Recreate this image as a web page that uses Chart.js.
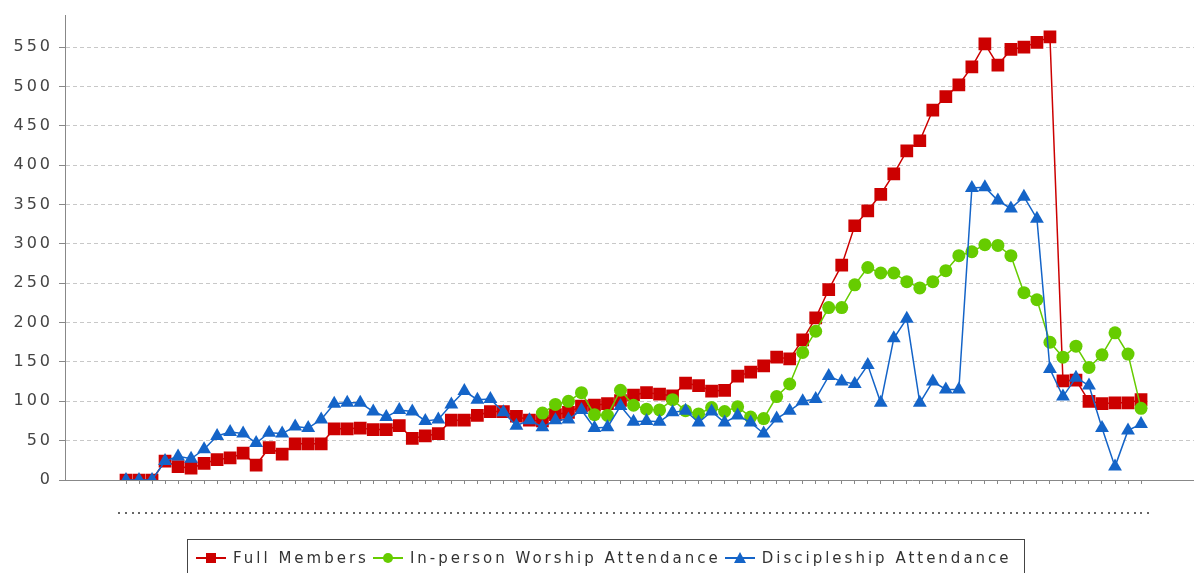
<!DOCTYPE html>
<html>
<head>
<meta charset="utf-8">
<script src="https://cdn.jsdelivr.net/npm/chart.js@4.4.1/dist/chart.umd.min.js"></script>
<style>
  html, body { margin: 0; padding: 0; background: #fff; }
  #wrap { position: relative; width: 1194px; height: 573px; overflow: hidden; }
  #legend {
    position: absolute; left: 187px; top: 539px; height: 38px;
    border: 1px solid #444; box-sizing: border-box;
    display: flex; align-items: center; padding: 0 8px;
    font: 15px "DejaVu Sans"; letter-spacing: 3px; color: #333; white-space: nowrap;
  }
  .item { display: flex; align-items: center; margin-right: 4px; }
  .mark { position: relative; width: 30px; height: 14px; margin-right: 7px; }
  .mark .ln { position: absolute; left: 0; right: 0; top: 6px; height: 2px; }
  .mark .sh { position: absolute; left: 10px; top: 2px; width: 10px; height: 10px; }
</style>
</head>
<body>
<div id="wrap">
  <canvas id="chart" width="1194" height="573"></canvas>
  <div id="legend"></div>
</div>
<script>
const periods = [
  0,1,2,3,4,5,6,7,8,9,10,11,12,13,14,15,16,17,18,19,
  20,21,22,23,24,25,26,27,28,29,30,31,32,33,34,35,36,37,38,39,
  40,41,42,43,44,45,46,47,48,49,50,51,52,53,54,55,56,57,58,59,
  60,61,62,63,64,65,66,67,68,69,70,71,72,73,74,75,76,77,78
];

const fullMembers = [
  0,0,0,24,17,15,21,26,28,34,
  19,41,33,46,46,46,65,65,66,64,
  64,69,53,56,59,76,76,82,87,87,
  81,76,75,83,86,94,95,97,101,108,
  111,109,107,123,120,113,114,132,137,145,
  156,154,178,206,242,273,323,342,363,389,
  418,431,470,487,502,525,554,527,547,550,
  556,563,126,127,100,97,98,98,102
];

const worship = [
  null,null,null,null,null,null,null,null,null,null,
  null,null,null,null,null,null,null,null,null,null,
  null,null,null,null,null,null,null,null,null,null,
  null,null,85,96,100,111,83,82,114,95,
  90,89,102,88,84,92,87,93,80,78,
  106,122,162,189,219,219,248,270,263,263,
  252,244,252,266,285,290,299,298,285,238,
  229,175,156,170,143,159,187,160,91
];

const discipleship = [
  0,0,0,24,30,27,39,56,61,59,
  47,60,59,68,66,77,97,98,98,87,
  80,89,87,75,77,96,113,102,103,86,
  69,76,67,76,77,89,66,67,94,74,
  75,74,86,88,73,87,73,82,73,59,
  78,88,100,103,132,125,122,146,98,180,
  205,98,125,115,115,371,372,355,345,360,
  332,141,106,130,120,66,17,63,71
];

const yTicksMax = 550;
const yStep = 50;

const spacedText = {
  id: 'spacedText',
  beforeDraw(chart) { chart.ctx.letterSpacing = '3px'; }
};

// row of small dots under the category axis
const dotRow = {
  id: 'dotRow',
  afterDraw(chart) {
    const x = chart.scales.x, ctx = chart.ctx;
    const step = x.getPixelForValue(1) - x.getPixelForValue(0);
    const start = x.getPixelForValue(0) - step / 2;
    ctx.save();
    ctx.fillStyle = '#666';
    for (let k = 0; k <= periods.length * 2; k++) {
      ctx.fillRect(Math.round(start + k * step / 2) - 1, 512, 2, 2);
    }
    ctx.restore();
  }
};

const ds = (label, data, color, style, radius, order) => ({
  label: label,
  data: data,
  borderColor: color,
  backgroundColor: color,
  borderWidth: 1.5,
  pointStyle: style,
  pointRadius: radius,
  pointHoverRadius: radius,
  pointBorderWidth: 0,
  tension: 0,
  order: order,
  clip: {left: 12, top: 12, right: 12, bottom: 0}
});

const chart = new Chart(document.getElementById('chart'), {
  type: 'line',
  data: {
    labels: periods,
    datasets: [
      ds('Full Members', fullMembers, '#cc0000', 'rect', 9, 3),
      ds('In-person Worship Attendance', worship, '#66cc00', 'circle', 6.5, 2),
      ds('Discipleship Attendance', discipleship, '#1464c8', 'triangle', 8, 1)
    ]
  },
  options: {
    responsive: false,
    animation: false,
    layout: { autoPadding: false, padding: { top: 12, right: 0, left: 0, bottom: 0 } },
    plugins: { legend: { display: false }, tooltip: { enabled: false } },
    scales: {
      x: {
        type: 'linear',
        min: -4.688,
        max: 82.07,
        afterBuildTicks: (s) => { s.ticks = periods.map(v => ({ value: v })); },
        afterFit: (s) => { s.height = 93; },
        ticks: { display: false },
        grid: { drawOnChartArea: false, tickLength: 4, color: '#888', tickColor: '#888' },
        border: { color: '#888', width: 1 }
      },
      y: {
        min: 0,
        max: 590,
        afterFit: (s) => { s.width = 65; },
        afterBuildTicks: (s) => {
          s.ticks = s.ticks.filter(t => t.value <= yTicksMax);
        },
        ticks: {
          stepSize: yStep,
          includeBounds: false,
          padding: 6,
          color: '#444',
          font: { family: 'DejaVu Sans', size: 16 }
        },
        grid: { color: '#c8c8c8', tickColor: '#888', tickLength: 6 },
        border: { color: '#888', width: 1, dash: [4, 3] }
      }
    }
  },
  plugins: [spacedText, dotRow]
});

// legend drawn as html from the dataset config
const legend = document.getElementById('legend');
chart.data.datasets.forEach(d => {
  const item = document.createElement('div');
  item.className = 'item';
  const mark = document.createElement('span');
  mark.className = 'mark';
  const ln = document.createElement('span');
  ln.className = 'ln';
  ln.style.background = d.borderColor;
  const sh = document.createElement('span');
  sh.className = 'sh';
  if (d.pointStyle === 'triangle') {
    sh.style.width = '0'; sh.style.height = '0'; sh.style.left = '9px'; sh.style.top = '1px';
    sh.style.borderLeft = '6px solid transparent';
    sh.style.borderRight = '6px solid transparent';
    sh.style.borderBottom = '11px solid ' + d.backgroundColor;
  } else {
    sh.style.background = d.backgroundColor;
    if (d.pointStyle === 'circle') sh.style.borderRadius = '50%';
  }
  mark.appendChild(ln);
  mark.appendChild(sh);
  const txt = document.createElement('span');
  txt.textContent = d.label;
  item.appendChild(mark);
  item.appendChild(txt);
  legend.appendChild(item);
});
</script>
</body>
</html>
